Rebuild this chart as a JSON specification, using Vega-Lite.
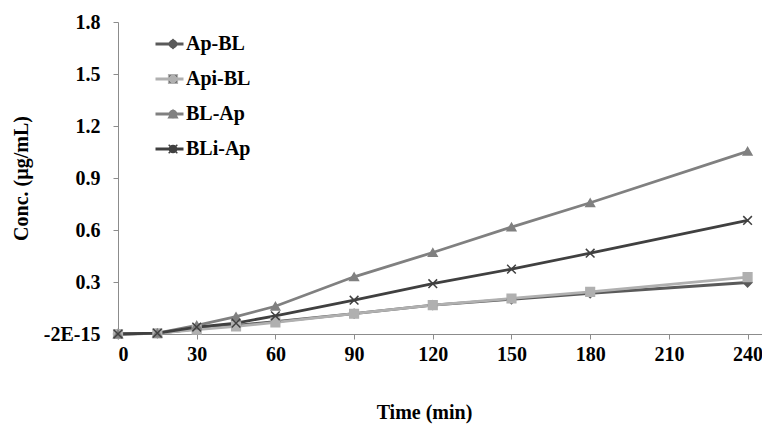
{
  "$schema": "https://vega.github.io/schema/vega-lite/v6.json",
  "width": 644,
  "height": 312,
  "autosize": {"type": "none"},
  "padding": {"left": 118, "top": 22, "right": 0, "bottom": 94},
  "background": "white",
  "config": {
    "view": {"stroke": null},
    "font": "Liberation Serif",
    "axis": {"grid": false, "domainColor": "#8c8c8c", "tickColor": "#8c8c8c", "tickSize": 5,
      "labelFont": "Liberation Serif", "labelFontWeight": "bold", "labelFontSize": 20, "labelColor": "#000",
      "titleFont": "Liberation Serif", "titleFontWeight": "bold", "titleFontSize": 20, "titleColor": "#000"}
  },
  "data": {"values": [
    {"time": 0, "conc": 0, "series": "Ap-BL"},
    {"time": 15, "conc": 0.004, "series": "Ap-BL"},
    {"time": 30, "conc": 0.03, "series": "Ap-BL"},
    {"time": 45, "conc": 0.05, "series": "Ap-BL"},
    {"time": 60, "conc": 0.072, "series": "Ap-BL"},
    {"time": 90, "conc": 0.117, "series": "Ap-BL"},
    {"time": 120, "conc": 0.166, "series": "Ap-BL"},
    {"time": 150, "conc": 0.2, "series": "Ap-BL"},
    {"time": 180, "conc": 0.235, "series": "Ap-BL"},
    {"time": 240, "conc": 0.297, "series": "Ap-BL"},
    {"time": 0, "conc": 0, "series": "Api-BL"},
    {"time": 15, "conc": 0.004, "series": "Api-BL"},
    {"time": 30, "conc": 0.025, "series": "Api-BL"},
    {"time": 45, "conc": 0.044, "series": "Api-BL"},
    {"time": 60, "conc": 0.067, "series": "Api-BL"},
    {"time": 90, "conc": 0.117, "series": "Api-BL"},
    {"time": 120, "conc": 0.167, "series": "Api-BL"},
    {"time": 150, "conc": 0.205, "series": "Api-BL"},
    {"time": 180, "conc": 0.243, "series": "Api-BL"},
    {"time": 240, "conc": 0.328, "series": "Api-BL"},
    {"time": 0, "conc": 0, "series": "BL-Ap"},
    {"time": 15, "conc": 0.005, "series": "BL-Ap"},
    {"time": 30, "conc": 0.05, "series": "BL-Ap"},
    {"time": 45, "conc": 0.1, "series": "BL-Ap"},
    {"time": 60, "conc": 0.16, "series": "BL-Ap"},
    {"time": 90, "conc": 0.33, "series": "BL-Ap"},
    {"time": 120, "conc": 0.47, "series": "BL-Ap"},
    {"time": 150, "conc": 0.617, "series": "BL-Ap"},
    {"time": 180, "conc": 0.757, "series": "BL-Ap"},
    {"time": 240, "conc": 1.054, "series": "BL-Ap"},
    {"time": 0, "conc": 0, "series": "BLi-Ap"},
    {"time": 15, "conc": 0.005, "series": "BLi-Ap"},
    {"time": 30, "conc": 0.04, "series": "BLi-Ap"},
    {"time": 45, "conc": 0.063, "series": "BLi-Ap"},
    {"time": 60, "conc": 0.105, "series": "BLi-Ap"},
    {"time": 90, "conc": 0.195, "series": "BLi-Ap"},
    {"time": 120, "conc": 0.29, "series": "BLi-Ap"},
    {"time": 150, "conc": 0.374, "series": "BLi-Ap"},
    {"time": 180, "conc": 0.466, "series": "BLi-Ap"},
    {"time": 240, "conc": 0.655, "series": "BLi-Ap"}
  ]},
  "encoding": {
    "x": {"field": "time", "type": "quantitative",
      "scale": {"domain": [0, 245.5], "nice": false, "zero": false},
      "axis": {"values": [0, 30, 60, 90, 120, 150, 180, 210, 240], "title": "Time (min)", "labelPadding": 5,
        "titleX": 306, "titleY": 78, "titleBaseline": "middle", "titleAlign": "center"}},
    "y": {"field": "conc", "type": "quantitative",
      "scale": {"domain": [0, 1.8], "nice": false},
      "axis": {"values": [0, 0.3, 0.6, 0.9, 1.2, 1.5, 1.8], "title": "Conc. (µg/mL)", "labelPadding": 13,
        "labelExpr": "datum.value == 0 ? '-2E-15' : format(datum.value, '.1f')",
        "titleX": -97, "titleY": 156, "titleAngle": -90, "titleBaseline": "middle", "titleAlign": "center"}},
    "color": {"field": "series", "type": "nominal",
      "scale": {"domain": ["Ap-BL", "Api-BL", "BL-Ap", "BLi-Ap"], "range": ["#5a5a5a", "#b0b0b0", "#808080", "#404040"]}}
  },
  "layer": [
    {
      "mark": {"type": "line", "strokeWidth": 2.8},
      "encoding": {
        "color": {"field": "series", "type": "nominal",
          "scale": {"domain": ["Ap-BL", "Api-BL", "BL-Ap", "BLi-Ap"], "range": ["#5a5a5a", "#b0b0b0", "#808080", "#404040"]},
          "legend": {"orient": "none", "legendX": 36, "legendY": 12, "title": null,
            "symbolType": "stroke", "symbolSize": 784, "symbolStrokeWidth": 2.8,
            "labelFont": "Liberation Serif", "labelFontWeight": "bold", "labelFontSize": 20, "labelColor": "#000",
            "labelOffset": 1, "clipHeight": 20, "rowPadding": 15}}
      }
    },
    {
      "mark": {"type": "point", "filled": true, "size": 75, "opacity": 1, "strokeWidth": 1.5},
      "encoding": {
        "color": {"field": "series", "type": "nominal",
          "scale": {"domain": ["Ap-BL", "Api-BL", "BL-Ap", "BLi-Ap"], "range": ["#5a5a5a", "#b0b0b0", "#808080", "#404040"]},
          "legend": {"orient": "none", "legendX": 45, "legendY": 12, "title": null,
            "symbolSize": 75, "symbolStrokeWidth": 1.5, "symbolOpacity": 1,
            "labelExpr": "''", "labelFontSize": 20, "clipHeight": 20, "rowPadding": 15}},
        "shape": {"field": "series", "type": "nominal",
          "scale": {"domain": ["Ap-BL", "Api-BL", "BL-Ap", "BLi-Ap"], "range": ["diamond", "square", "triangle-up", "M-1,-1L1,1M-1,1L1,-1"]},
          "legend": {"orient": "none", "legendX": 45, "legendY": 12, "title": null,
            "symbolSize": 75, "symbolStrokeWidth": 1.5, "symbolOpacity": 1,
            "labelExpr": "''", "labelFontSize": 20, "clipHeight": 20, "rowPadding": 15}},
        "stroke": {"field": "series", "type": "nominal", "legend": null,
          "scale": {"domain": ["Ap-BL", "Api-BL", "BL-Ap", "BLi-Ap"], "range": ["#5a5a5a", "#b0b0b0", "#808080", "#404040"]}}
      }
    }
  ],
  "resolve": {"legend": {"color": "independent"}}
}
